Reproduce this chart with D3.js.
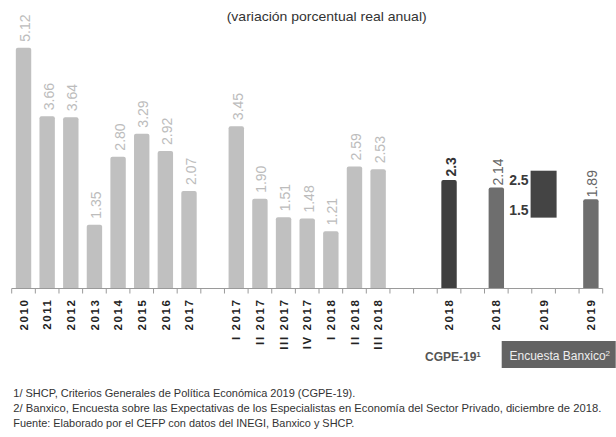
<!DOCTYPE html>
<html>
<head>
<meta charset="utf-8">
<script src="https://cdn.jsdelivr.net/npm/d3@7"></script>
<style>
  html, body { margin: 0; padding: 0; background: #fff; }
  svg { display: block; font-family: "Liberation Sans", Arial, sans-serif; }
</style>
</head>
<body>
<svg id="chart" width="616" height="437"></svg>
<script>
// ---- data ----
const categories = ["2010","2011","2012","2013","2014","2015","2016","2017","",
  "I 2017","II 2017","III 2017","IV 2017","I 2018","II 2018","III 2018","","",
  "2018","","2018","","2019","","2019"];
const historicalIdx = [0,1,2,3,4,5,6,7];
const historicalValues = [5.12,3.66,3.64,1.35,2.80,3.29,2.92,2.07];
const quarterlyIdx = [9,10,11,12,13,14,15];
const quarterlyValues = [3.45,1.90,1.51,1.48,1.21,2.59,2.53];
const cgpeIdx = [18];
const cgpeValues = [2.3];
const cgpeRangeIdx = 22;
const cgpeRange = [1.5, 2.5];
const banxicoIdx = [20,24];
const banxicoValues = [2.14,1.89];
const title = "(variación porcentual real anual)";
const footnotes = [
  "1/ SHCP, Criterios Generales de Política Económica 2019 (CGPE-19).",
  "2/ Banxico, Encuesta sobre las Expectativas de los Especialistas en Economía del Sector Privado, diciembre de 2018.",
  "Fuente: Elaborado por el CEFP con datos del INEGI, Banxico y SHCP."
];

// ---- scales ----
const svg = d3.select("#chart");
const x = d3.scaleBand().domain(d3.range(categories.length)).range([11.7, 602.7]);
const y = d3.scaleLinear().domain([0, 5.12]).range([288, 47.8]);
const bw = 15.4;
const cx = i => x(i) + x.bandwidth() / 2;

function barPath(i, v, w) {
  const x0 = cx(i) - w / 2, x1 = cx(i) + w / 2, y0 = y(0), y1 = y(v), r = 2;
  const p = d3.path();
  p.moveTo(x0, y0);
  p.lineTo(x0, y1 + r);
  p.quadraticCurveTo(x0, y1, x0 + r, y1);
  p.lineTo(x1 - r, y1);
  p.quadraticCurveTo(x1, y1, x1, y1 + r);
  p.lineTo(x1, y0);
  p.closePath();
  return p.toString();
}

function bars(idx, vals, fill) {
  svg.append("g").selectAll("path").data(idx.map((d, k) => ({i: d, v: vals[k]})))
    .join("path").attr("d", d => barPath(d.i, d.v, bw)).attr("fill", fill);
}
function labels(idx, vals, fill, weight, gap, fmt) {
  svg.append("g").selectAll("text").data(idx.map((d, k) => ({i: d, v: vals[k]})))
    .join("text")
    .attr("transform", d => `translate(${cx(d.i) + 1.5},${y(d.v) - gap}) rotate(-90)`)
    .attr("dy", "0.36em")
    .attr("font-size", 14)
    .attr("font-weight", weight)
    .attr("fill", fill)
    .text(d => fmt(d.v));
}

bars(historicalIdx, historicalValues, "#c0c0c0");
bars(quarterlyIdx, quarterlyValues, "#c0c0c0");
bars(cgpeIdx, cgpeValues, "#3f3f3f");
bars(banxicoIdx, banxicoValues, "#6e6e6e");

// range box 2019
svg.append("rect")
  .attr("x", cx(cgpeRangeIdx) - 13).attr("width", 26)
  .attr("y", y(cgpeRange[1])).attr("height", y(cgpeRange[0]) - y(cgpeRange[1]))
  .attr("fill", "#444");
svg.append("g").selectAll("text").data(cgpeRange).join("text")
  .attr("x", cx(cgpeRangeIdx) - 15)
  .attr("y", (d, k) => k === 0 ? y(d) - 2.5 : y(d) + 14.5)
  .attr("text-anchor", "end").attr("font-size", 14).attr("font-weight", "bold")
  .attr("fill", "#3a3a3a").text(d => d.toFixed(1));

const f2 = d3.format(".2f");
labels(historicalIdx, historicalValues, "#bcbcbc", "normal", 6, f2);
labels(quarterlyIdx, quarterlyValues, "#bcbcbc", "normal", 6, f2);
labels(cgpeIdx, cgpeValues, "#333", "bold", 3.5, d => d.toString());
labels(banxicoIdx, banxicoValues, "#666", "normal", 2, f2);

// axis
const axisY = 288.5;
const ax = svg.append("g").attr("stroke", "#9a9a9a").attr("stroke-width", 1);
ax.append("line").attr("x1", x.range()[0]).attr("x2", x.range()[1]).attr("y1", axisY).attr("y2", axisY);
ax.selectAll("line.tick").data(d3.range(categories.length + 1)).join("line")
  .attr("class", "tick")
  .attr("x1", i => x.range()[0] + i * x.step()).attr("x2", i => x.range()[0] + i * x.step())
  .attr("y1", axisY).attr("y2", axisY + 5);

svg.append("g").selectAll("text").data(categories.map((c, i) => ({c, i})).filter(d => d.c))
  .join("text")
  .attr("transform", d => `translate(${cx(d.i)},298.5) rotate(-90)`)
  .attr("dy", "0.36em")
  .attr("text-anchor", "end")
  .attr("font-size", 11.5).attr("font-weight", "bold").attr("letter-spacing", 1.6)
  .attr("fill", "#222")
  .text(d => d.c);

// title
svg.append("text").attr("x", 326.7).attr("y", 21).attr("text-anchor", "middle")
  .attr("font-size", 13).attr("fill", "#333")
  .attr("textLength", 200).attr("lengthAdjust", "spacingAndGlyphs").text(title);

// legend
const lg1 = svg.append("text").attr("x", 425).attr("y", 361)
  .attr("font-size", 12).attr("font-weight", "bold").attr("fill", "#555");
lg1.append("tspan").text("CGPE-19");
lg1.append("tspan").attr("font-size", 8).attr("dy", -4).text("1");

svg.append("rect").attr("x", 501.7).attr("y", 341).attr("width", 114).attr("height", 27)
  .attr("fill", "#636363");
const lg2 = svg.append("text").attr("x", 509.5).attr("y", 360)
  .attr("font-size", 12).attr("fill", "#eee");
lg2.append("tspan").text("Encuesta Banxico");
lg2.append("tspan").attr("font-size", 8).attr("dy", -4).text("2");

// footnotes
const fnLen = [342, 588, 341];
svg.append("g").selectAll("text").data(footnotes).join("text")
  .attr("x", 13.3).attr("y", (d, k) => 397 + k * 15.2)
  .attr("font-size", 10.5).attr("fill", "#333")
  .attr("textLength", (d, k) => fnLen[k]).attr("lengthAdjust", "spacingAndGlyphs")
  .text(d => d);
</script>
</body>
</html>
